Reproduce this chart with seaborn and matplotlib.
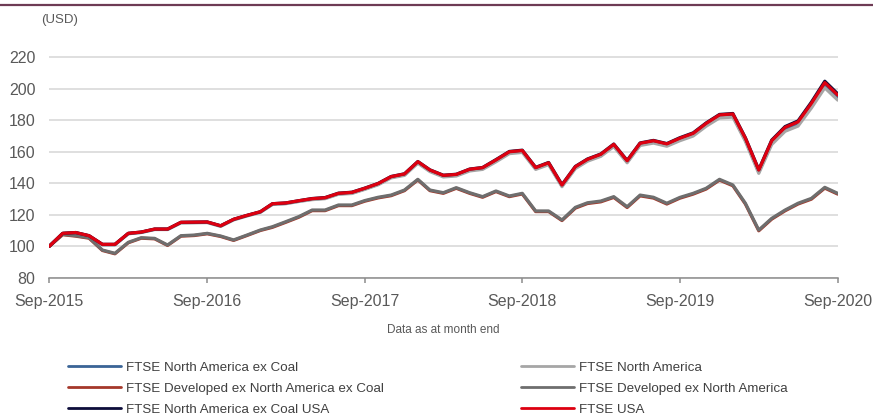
import pandas as pd
import matplotlib.pyplot as plt
import numpy as np
import seaborn as sns
from matplotlib.lines import Line2D

# datos (indice, base 100 = Sep-2015), fin de mes
fechas = pd.date_range('2015-09-30', periods=61, freq='ME')

na_ex_coal = [100.0, 108.1, 108.5, 106.5, 101.0, 101.0, 108.0, 108.8, 110.7, 110.7,
              115.0, 115.1, 115.2, 112.8, 116.9, 119.4, 121.7, 126.7, 127.2, 128.6,
              129.9, 130.5, 133.3, 133.8, 136.4, 139.4, 143.8, 145.4, 153.2, 147.9,
              144.5, 145.1, 148.3, 149.3, 154.2, 159.4, 160.2, 149.3, 152.4, 138.3,
              149.9, 154.6, 157.7, 164.0, 153.6, 164.7, 166.2, 164.2, 167.8, 170.8,
              177.1, 182.4, 183.0, 167.6, 147.3, 165.8, 174.3, 177.7, 189.3, 202.3,
              194.4]
na = [100.0, 108.0, 108.4, 106.4, 100.9, 100.9, 107.9, 108.7, 110.6, 110.6,
      114.8, 114.9, 115.0, 112.6, 116.7, 119.2, 121.5, 126.5, 127.0, 128.4,
      129.6, 130.2, 133.0, 133.5, 136.1, 139.0, 143.4, 145.0, 152.7, 147.4,
      144.0, 144.6, 147.8, 148.8, 153.6, 158.8, 159.6, 148.8, 151.8, 137.8,
      149.3, 154.0, 157.1, 163.3, 153.0, 164.0, 165.5, 163.5, 167.0, 170.0,
      176.2, 181.5, 182.0, 166.6, 146.3, 164.6, 173.0, 176.3, 187.8, 200.6,
      192.8]
dev_ex_na_ex_coal = [100.0, 107.3, 106.4, 105.1, 97.3, 95.2, 102.2, 105.1, 104.7, 100.5,
                     106.4, 106.8, 107.9, 106.2, 103.7, 106.8, 110.0, 112.0, 115.2, 118.4,
                     122.6, 122.6, 125.8, 125.8, 128.6, 130.7, 132.1, 135.3, 142.1, 135.3,
                     133.6, 136.8, 133.6, 131.1, 134.7, 131.5, 133.2, 122.0, 122.0, 116.3,
                     124.2, 127.1, 128.2, 131.0, 124.6, 132.0, 130.6, 126.8, 130.5, 133.1,
                     136.3, 142.0, 138.4, 126.8, 109.8, 117.2, 122.5, 126.8, 129.9, 136.9,
                     133.1]
dev_ex_na = [100.0, 107.6, 106.7, 105.4, 97.6, 95.5, 102.5, 105.4, 105.0, 100.8,
             106.7, 107.1, 108.2, 106.5, 104.0, 107.1, 110.3, 112.4, 115.6, 118.8,
             123.0, 123.0, 126.2, 126.2, 129.0, 131.1, 132.5, 135.7, 142.5, 135.7,
             134.0, 137.2, 134.0, 131.5, 135.1, 131.9, 133.6, 122.4, 122.4, 116.7,
             124.7, 127.6, 128.7, 131.5, 125.1, 132.5, 131.1, 127.3, 131.0, 133.6,
             136.8, 142.5, 138.9, 127.3, 110.3, 117.7, 123.0, 127.3, 130.4, 137.4,
             133.6]
na_ex_coal_usa = [100.0, 108.2, 108.7, 106.7, 101.2, 101.2, 108.2, 109.0, 110.9, 110.9,
                  115.2, 115.3, 115.4, 113.0, 117.1, 119.6, 121.9, 127.0, 127.5, 128.9,
                  130.3, 130.9, 133.7, 134.3, 136.9, 139.9, 144.3, 146.0, 153.8, 148.5,
                  145.1, 145.7, 149.0, 150.0, 155.0, 160.2, 161.0, 150.1, 153.2, 139.1,
                  150.7, 155.4, 158.6, 164.9, 154.5, 165.6, 167.2, 165.2, 168.9, 172.0,
                  178.3, 183.7, 184.3, 168.9, 148.6, 167.4, 176.0, 179.6, 191.5, 204.8,
                  196.8]
usa = [100.0, 108.2, 108.7, 106.7, 101.2, 101.2, 108.2, 109.0, 110.9, 110.9,
       115.2, 115.3, 115.4, 113.0, 117.1, 119.6, 121.9, 127.0, 127.5, 128.9,
       130.2, 130.8, 133.6, 134.2, 136.8, 139.8, 144.2, 145.9, 153.7, 148.4,
       145.0, 145.6, 148.9, 149.9, 154.8, 160.0, 160.8, 149.9, 153.0, 138.9,
       150.5, 155.2, 158.4, 164.7, 154.3, 165.4, 167.0, 165.0, 168.6, 171.7,
       178.0, 183.4, 184.0, 168.6, 148.4, 167.0, 175.5, 179.0, 190.8, 203.9,
       196.0]

series = {
    'FTSE North America ex Coal': (na_ex_coal, '#3A6496'),
    'FTSE North America': (na, '#A6A6A6'),
    'FTSE Developed ex North America ex Coal': (dev_ex_na_ex_coal, '#A5382A'),
    'FTSE Developed ex North America': (dev_ex_na, '#6E6E6E'),
    'FTSE North America ex Coal USA': (na_ex_coal_usa, '#0D0D3A'),
    'FTSE USA': (usa, '#DD0010'),
}

sns.set_style('white')
plt.rcParams['font.family'] = ['Liberation Sans', 'DejaVu Sans']

fig = plt.figure(figsize=(8.73, 4.17), dpi=100)
ax = fig.add_axes([0.0565, 0.334, 0.9031, 0.5324])

for nombre, (vals, color) in series.items():
    df = pd.DataFrame({'Fecha': fechas, 'Valor': vals})
    sns.lineplot(data=df, x='Fecha', y='Valor', ax=ax, color=color,
                 linewidth=2.3, legend=False)

ax.set_xlim(fechas[0], fechas[-1])
ax.set_ylim(80, 221)
ax.set_yticks(range(80, 221, 20))
ax.set_xticks(fechas[::12])
ax.set_xticklabels([f.strftime('%b-%Y') for f in fechas[::12]])
ax.set_xlabel('')
ax.set_ylabel('')
ax.grid(axis='y', color='#D9D9D9', linewidth=1.2)
ax.set_axisbelow(True)
for s in ['top', 'right', 'left']:
    ax.spines[s].set_visible(False)
ax.spines['bottom'].set_color('#8C8C8C')
ax.spines['bottom'].set_linewidth(1.1)
ax.tick_params(axis='x', direction='out', length=3.6, width=1.1, color='#8C8C8C',
               pad=8, labelsize=11.5, labelcolor='#595959', bottom=True)
ax.tick_params(axis='y', length=0, pad=10, labelsize=11.5, labelcolor='#595959')

fig.text(40.7 / 873, 1 - 20 / 417, '(USD)', fontsize=9.5, color='#595959',
         ha='left', va='center')
fig.text(443 / 873, 1 - 329.7 / 417, 'Data as at month end', fontsize=8.5,
         color='#595959', ha='center', va='center')

# linea superior
fig.add_artist(Line2D([0, 1], [1 - 4.5 / 417, 1 - 4.5 / 417], color='#6E3B55',
                      linewidth=1.6, transform=fig.transFigure))

# leyenda en dos columnas
nombres = list(series.keys())
col1 = [nombres[0], nombres[2], nombres[4]]
col2 = [nombres[1], nombres[3], nombres[5]]
for cols, x0 in [(col1, 68.3), (col2, 520.5)]:
    handles = [Line2D([], [], color=series[n][1], linewidth=2) for n in cols]
    fig.legend(handles, cols, loc='upper left',
               bbox_to_anchor=(x0 / 873, 1 - 361.6 / 417),
               frameon=False, fontsize=9.6, labelcolor='#404040',
               handlelength=3.98, handletextpad=0.375, labelspacing=0.65,
               borderpad=0, borderaxespad=0)

plt.savefig('out.png', dpi=100, facecolor='white')
plt.close()
